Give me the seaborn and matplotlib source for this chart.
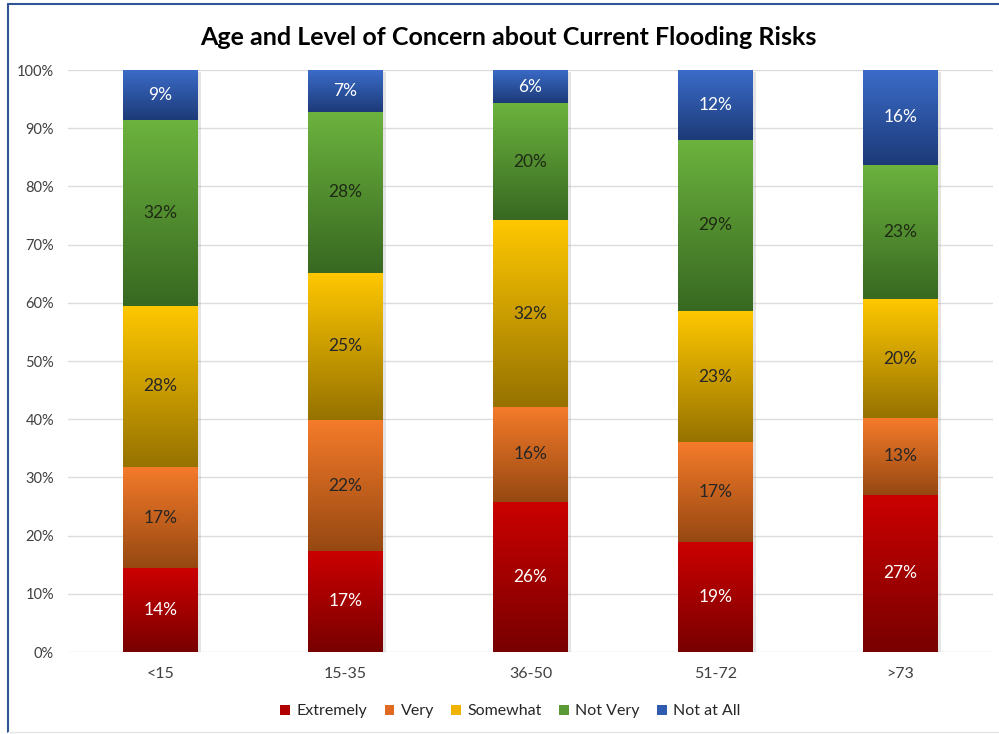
import numpy as np
import pandas as pd
import matplotlib
matplotlib.use("Agg")
import matplotlib.pyplot as plt
import matplotlib.patheffects as pe
from matplotlib.patches import Patch
from matplotlib.lines import Line2D
from matplotlib.colors import to_rgb
import seaborn as sns

# ---------------- data ----------------
categories = ["<15", "15-35", "36-50", "51-72", ">73"]
levels = ["Extremely", "Very", "Somewhat", "Not Very", "Not at All"]
extremely = [14.4, 17.4, 25.8, 18.9, 27.0]
very = [17.4, 22.4, 16.3, 17.1, 13.2]
somewhat = [27.7, 25.4, 32.1, 22.6, 20.4]
not_very = [31.9, 27.6, 20.1, 29.4, 23.1]
not_at_all = [8.6, 7.2, 5.7, 12.0, 16.3]
yticks = [0, 10, 20, 30, 40, 50, 60, 70, 80, 90, 100]
title = "Age and Level of Concern about Current Flooding Risks"

# ---------------- styles ----------------
top_colors = ["#CC0000", "#F57B2A", "#FFC800", "#6CB33E", "#3B6CC9"]
bot_colors = ["#780000", "#964812", "#967200", "#386821", "#1D3A78"]
legend_colors = ["#B00000", "#E06A22", "#F0B400", "#5A9A34", "#2F5CB0"]
label_colors = ["white", "#262626", "#262626", "#1f2a14", "white"]

sns.set_style("white")
plt.rcParams["font.family"] = ["Lato", "DejaVu Sans"]

df = pd.DataFrame({"category": categories, "Extremely": extremely, "Very": very,
                   "Somewhat": somewhat, "Not Very": not_very, "Not at All": not_at_all})

fig = plt.figure(figsize=(9.99, 7.34), dpi=100)
ax = fig.add_axes([0.068, 0.1117, 0.926, 0.7929])

bottoms = np.zeros(len(categories))
seg_patches = []
for i, lev in enumerate(levels):
    vals = df[lev].to_numpy()
    n_before = len(ax.patches)
    sns.barplot(data=df, x="category", y=lev, order=categories, color=top_colors[i],
                saturation=1, width=0.4, errorbar=None, bottom=bottoms.copy(),
                linewidth=0, ax=ax, zorder=2)
    new = ax.patches[n_before:]
    seg_patches.append(new)
    bottoms = bottoms + vals

# gradients + shadows + labels
top_rgb = [np.array(to_rgb(c)) for c in top_colors]
bot_rgb = [np.array(to_rgb(c)) for c in bot_colors]
t = np.linspace(0, 1, 256)[:, None]
for i, patches in enumerate(seg_patches):
    grad = bot_rgb[i][None, :] * (1 - t) + top_rgb[i][None, :] * t
    img = grad[:, None, :]
    vals = df[levels[i]].to_numpy()
    for p, v in zip(patches, vals):
        x, y = p.get_x(), p.get_y()
        w, h = p.get_width(), p.get_height()
        p.set_path_effects([pe.SimplePatchShadow(offset=(2.5, -1.5), shadow_rgbFace="#a8a8a8", alpha=0.3),
                            pe.Normal()])
        ax.imshow(img, extent=[x, x + w, y, y + h], origin="lower", aspect="auto",
                  interpolation="bilinear", zorder=2.5)
        ax.text(x + w / 2, y + h / 2, f"{v:.0f}%", ha="center", va="center",
                fontsize=12.5, color=label_colors[i], zorder=4)

ax.set_xlim(-0.5, len(categories) - 0.5)
ax.set_ylim(0, 100)
ax.set_yticks(yticks)
ax.set_yticklabels([f"{v}%" for v in yticks])
ax.yaxis.grid(True, color="#dcdcdc", linewidth=1)
ax.set_axisbelow(True)
for s in ax.spines.values():
    s.set_visible(False)
ax.tick_params(axis="both", length=0, labelsize=10.5, labelcolor="#404040")
ax.tick_params(axis="x", labelsize=11.5)
ax.tick_params(axis="y", pad=10)
ax.tick_params(axis="x", pad=11)
ax.set_xlabel("")
ax.set_ylabel("")

fig.text(0.509, 0.949, title, ha="center", va="center", fontsize=18, fontweight="bold", color="black")

handles = [Patch(facecolor=c, edgecolor="none") for c in legend_colors]
fig.legend(handles, levels, loc="center", bbox_to_anchor=(0.511, 0.031), ncol=5, frameon=False,
           fontsize=11.5, handlelength=0.6, handleheight=0.6, handletextpad=0.4, columnspacing=1.1,
           labelcolor="#262626")

# frame
fig.add_artist(Line2D([0.008, 0.008], [0.003, 0.995], color="#2F5597", lw=1.5, transform=fig.transFigure))
fig.add_artist(Line2D([0.008, 1.0], [0.995, 0.995], color="#2F5597", lw=1.5, transform=fig.transFigure))
fig.add_artist(Line2D([0.008, 1.0], [0.003, 0.003], color="#e6e6e6", lw=1, transform=fig.transFigure))

fig.savefig("out.png", dpi=100)
